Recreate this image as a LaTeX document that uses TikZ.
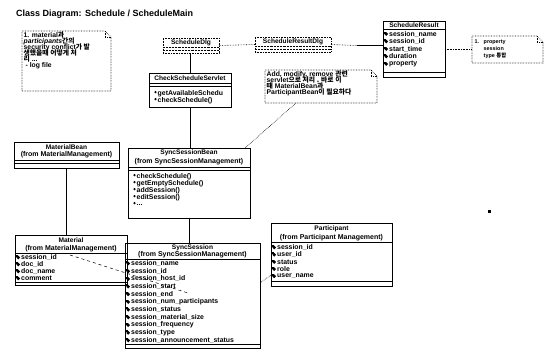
\documentclass[tikz,border=0pt]{standalone}
\usepackage{fontspec}
\setmainfont{Liberation Sans}
\newfontfamily\kr{Noto Sans CJK KR}
\usetikzlibrary{calc}
\newcommand\tightlines{\lineskiplimit=-6pt\relax}
\newcommand\arow[3]{\fill (#1+3.2,#2) circle (1.9pt); \fill (#1+1.2,#2-2.4) rectangle (#1+3,#2-0.4); \node[attrtxt] at (#1+6,#2) {#3};}
\newcommand\orow[3]{\fill (#1+6.5,#2-1.4) circle (1.2pt); \node[attrtxt] at (#1+8.5,#2) {#3};}
\newcommand\cmpline[3]{\draw[cmp] (#1,#3) -- (#2,#3);}
\begin{document}
\begin{tikzpicture}[x=1pt,y=-1pt,
  cls/.style={draw, line width=0.6pt, inner sep=0pt, outer sep=0pt, anchor=north west},
  dlgcls/.style={cls, densely dotted},
  notebox/.style={inner sep=0pt, outer sep=0pt, anchor=north west},
  noteline/.style={densely dotted, line width=0.6pt},
  nm/.style={font=\fontsize{6.6}{7}\selectfont\bfseries, inner sep=0pt},
  frm/.style={font=\fontsize{7}{7}\selectfont\bfseries, inner sep=0pt},
  attrtxt/.style={font=\fontsize{6.9}{7.5}\selectfont\bfseries, inner sep=0pt, anchor=west},
  ntxt/.style={font=\fontsize{6.8}{6}\selectfont\bfseries\tightlines, inner sep=0pt, anchor=north west, align=left},
  cmp/.style={line width=0.45pt},
  dep/.style={densely dotted, line width=0.6pt},
  lnk/.style={line width=0.6pt}]
\useasboundingbox (0,0) rectangle (545,351);

% title
\node[anchor=west, font=\bfseries\fontsize{9}{10}\selectfont, inner sep=0pt] (title) at (16,14) {Class Diagram: Schedule / ScheduleMain};

% note 1
\node[notebox, minimum width=89pt, minimum height=60pt] (n1) at (22,31) {};
\draw[noteline] (n1.north west) -- ([xshift=-6pt]n1.north east) -- ([yshift=-6pt]n1.north east) -- (n1.south east) -- (n1.south west) -- cycle;
\draw[noteline] ([xshift=-6pt]n1.north east) -- ([xshift=-6pt,yshift=-6pt]n1.north east) -- ([yshift=-6pt]n1.north east);
\node[ntxt] (n1t) at (23.5,31.3) {1. material{\kr 과}\\ \textit{participants}{\kr 간의}\\ security conflict{\kr 가 발}\\ {\kr 생했을때 어떻게 처}\\ {\kr 리} ...\\ \hspace{2pt}- log file};

% note 2
\node[notebox, minimum width=71pt, minimum height=27pt] (n2) at (472,36) {};
\draw[noteline] (n2.north west) -- ([xshift=-6pt]n2.north east) -- ([yshift=-6pt]n2.north east) -- (n2.south east) -- (n2.south west) -- cycle;
\draw[noteline] ([xshift=-6pt]n2.north east) -- ([xshift=-6pt,yshift=-6pt]n2.north east) -- ([yshift=-6pt]n2.north east);
\node[ntxt, font=\fontsize{5.4}{7}\selectfont\bfseries\tightlines] (n2t) at (474.5,39.5) {\makebox[9pt][l]{1.}property\\ \hspace{9pt}session\\ \hspace{9pt}type {\kr 통합}};

% note 3
\node[notebox, minimum width=112pt, minimum height=33pt] (n3) at (265,70) {};
\draw[noteline] (n3.north west) -- ([xshift=-6pt]n3.north east) -- ([yshift=-6pt]n3.north east) -- (n3.south east) -- (n3.south west) -- cycle;
\draw[noteline] ([xshift=-6pt]n3.north east) -- ([xshift=-6pt,yshift=-6pt]n3.north east) -- ([yshift=-6pt]n3.north east);
\node[ntxt] (n3t) at (266.5,70.8) {Add, modify, remove {\kr 관련}\\ servlet{\kr 으로 처리 . 바로 이}\\ {\kr 때} MaterialBean{\kr 과}\\ ParticipantBean{\kr 이 필요하다}};

% ScheduleDlg
\node[dlgcls, minimum width=56pt, minimum height=15pt] (sdlg) at (163,38) {};
\node[nm] (sdlgn) at (191,42.5) {ScheduleDlg};
\draw[cmp, densely dotted] (163,47.5) -- (219,47.5);
\draw[cmp, densely dotted] (163,50.2) -- (219,50.2);

% ScheduleResultDlg
\node[dlgcls, minimum width=76pt, minimum height=15pt] (srdlg) at (255,37) {};
\node[nm] (srdlgn) at (293,42) {ScheduleResultDlg};
\draw[cmp, densely dotted] (255,46.5) -- (331,46.5);
\draw[cmp, densely dotted] (255,49.2) -- (331,49.2);

% CheckScheduleServlet
\node[cls, minimum width=82pt, minimum height=34pt] (css) at (149,73) {};
\node[nm] (cssn) at (190,78) {CheckScheduleServlet};
\cmpline{149}{231}{83}
\cmpline{149}{231}{86}
\orow{149}{93.5}{getAvailableSchedu}
\orow{149}{100.5}{checkSchedule()}

% ScheduleResult
\node[cls, minimum width=62pt, minimum height=56pt] (sr) at (383,21) {};
\node[nm] (srn) at (414,25) {ScheduleResult};
\cmpline{383}{445}{29}
\arow{383}{34}{session\_name}
\arow{383}{41.5}{session\_id}
\arow{383}{49}{start\_time}
\arow{383}{56.5}{duration}
\arow{383}{64}{property}
\cmpline{383}{445}{72}

% SyncSessionBean
\node[cls, minimum width=122pt, minimum height=70pt] (ssb) at (128,148) {};
\node[nm] (ssbn) at (189,153) {SyncSessionBean};
\node[frm] (ssbf) at (189,162) {(from SyncSessionManagement)};
\cmpline{128}{250}{167}
\cmpline{128}{250}{170}
\orow{128}{176.5}{checkSchedule()}
\orow{128}{183.5}{getEmptySchedule()}
\orow{128}{190.5}{addSession()}
\orow{128}{197.5}{editSession()}
\orow{128}{204.5}{...}

% MaterialBean
\node[cls, minimum width=105pt, minimum height=26pt] (mb) at (14,142) {};
\node[nm] (mbn) at (66.5,147) {MaterialBean};
\node[frm] (mbf) at (66.5,155) {(from MaterialManagement)};
\cmpline{14}{119}{160}
\cmpline{14}{119}{163.5}

% Material
\node[cls, minimum width=112pt, minimum height=50pt] (mat) at (15,235) {};
\node[nm] (matn) at (71,240.5) {Material};
\node[frm] (matf) at (71,248.3) {(from MaterialManagement)};
\cmpline{15}{127}{253}
\arow{15}{257.5}{session\_id}
\arow{15}{264.5}{doc\_id}
\arow{15}{271.5}{doc\_name}
\arow{15}{278.5}{comment}
\cmpline{15}{127}{282.5}

% SyncSession
\node[cls, minimum width=135pt, minimum height=105pt] (ss) at (125,243) {};
\node[nm] (ssn) at (192.5,247.5) {SyncSession};
\node[frm] (ssf) at (192.5,254.8) {(from SyncSessionManagement)};
\cmpline{125}{260}{259}
\arow{125}{263.5}{session\_name}
\arow{125}{271.2}{session\_id}
\arow{125}{278.9}{session\_host\_id}
\arow{125}{286.6}{session\_start}
\arow{125}{294.3}{session\_end}
\arow{125}{302}{session\_num\_participants}
\arow{125}{309.7}{session\_status}
\arow{125}{317.4}{session\_material\_size}
\arow{125}{325.1}{session\_frequency}
\arow{125}{332.8}{session\_type}
\arow{125}{340.5}{session\_announcement\_status}
\cmpline{125}{260}{344.5}

% Participant
\node[cls, minimum width=121pt, minimum height=63pt] (part) at (271,223) {};
\node[nm] (partn) at (331.5,229) {Participant};
\node[frm] (partf) at (331.5,237.5) {(from Participant Management)};
\cmpline{271}{392}{242.5}
\arow{271}{247.5}{session\_id}
\arow{271}{254.7}{user\_id}
\arow{271}{261.9}{status}
\arow{271}{269.1}{role}
\arow{271}{276.3}{user\_name}
\cmpline{271}{392}{281}

% connectors
\draw[lnk] (css.north) -- (css.north |- sdlg.south);
\draw[lnk] (css.south) -- (css.south |- ssb.north);
\draw[lnk] (ssb.south) -- (ssb.south |- ss.north);
\draw[lnk] (mb.south) -- (mb.south |- mat.north);
\draw[dep] (sdlg.east) -- (srdlg.west);
\coordinate (mid1) at (357,45.5);
\draw[dep] (srdlg.east) -- (mid1);
\draw[lnk] (mid1) -- (mid1 -| sr.west);
\draw[dep] (sr.east |- n2.west) -- (n2.west);
\draw[dep] ([xshift=31pt]n3.south west) -- ([xshift=-5pt]ssb.north east);
\coordinate (mA) at (70,255);
\coordinate (sA) at (188,293);
\draw[dashed, line width=0.5pt] (mA) -- (sA);
\draw[dep] ([yshift=-40pt]ss.north east) -- ([yshift=-52pt]part.north west);

% speck
\fill (488,210) rectangle (490.5,212.5);
\end{tikzpicture}
\end{document}
